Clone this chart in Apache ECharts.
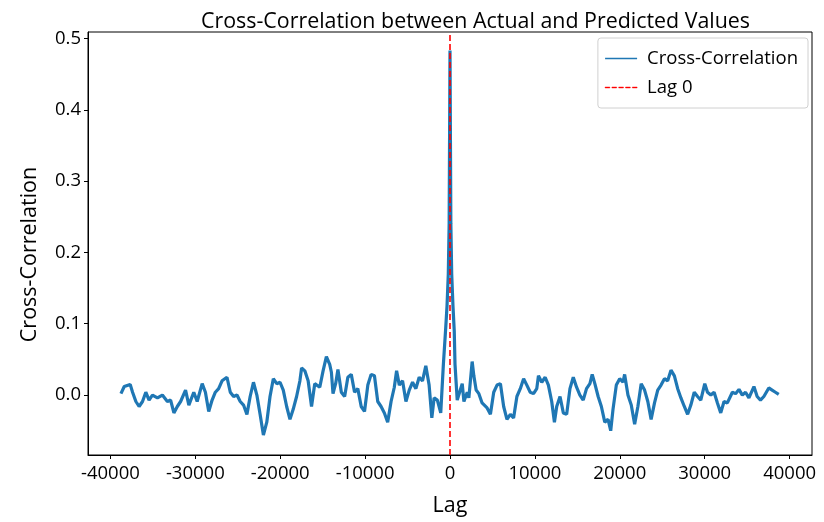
<!DOCTYPE html>
<html>
<head>
<meta charset="utf-8">
<script src="https://cdn.jsdelivr.net/npm/echarts@6/dist/echarts.min.js"></script>
<style>html,body{margin:0;padding:0;background:#fff;}#chart{width:824px;height:522px;}</style>
</head>
<body>
<div id="chart"></div>
<script>
const lags = [
-38760,-38370,-37670,-37390,-37000,-36620,-36220,-35830,-35450,-35050,
-34460,-33880,-33290,-32910,-32520,-32120,-31730,-31150,-30760,-30180,
-29780,-29190,-28810,-28420,-28020,-27640,-27250,-26850,-26270,-25880,
-25490,-25090,-24710,-24320,-23920,-23540,-23150,-22750,-22370,-21980,
-21580,-21200,-20810,-20410,-20020,-19640,-19240,-18850,-18470,-18070,
-17680,-17480,-17100,-16710,-16310,-15930,-15340,-14950,-14560,-14170,
-13970,-13780,-13470,-13200,-12800,-12410,-12030,-11630,-11240,-10860,
-10460,-10070,-9680,-9290,-8900,-8510,-8120,-7730,-7340,-6940,
-6560,-6290,-5970,-5590,-5190,-4800,-4410,-4020,-3630,-3240,
-2850,-2460,-2140,-1870,-1490,-1090,-780,-500,-350,-200,
-100,0,100,200,350,500,590,850,1050,1440,
1640,2030,2220,2610,2810,3080,3400,3780,4370,4760,
5150,5540,5940,6320,6710,7110,7490,7880,8280,8670,
9050,9450,9840,10220,10420,10810,11210,11590,11980,12300,
12570,12960,13350,13740,14130,14520,14910,15300,15690,16080,
16480,16750,17060,17450,17830,18230,18620,18930,19200,19590,
19990,20380,20570,20960,21350,21750,22130,22520,22920,23300,
23690,24090,24470,24860,25260,25640,26030,26430,26820,27200,
27600,27990,28370,28770,29160,29540,30010,30330,30720,31110,
31500,31890,32280,32670,33260,33640,34040,34430,34810,35210,
35800,36180,36570,36970,37550,37940,38330,38720
];
const crossCorr = [
0.002,0.012,0.015,0.004,-0.009,-0.016,-0.009,0.004,-0.007,0.000,
-0.004,0.000,-0.009,-0.007,-0.025,-0.016,-0.009,0.007,-0.014,0.004,
-0.009,0.016,0.004,-0.023,-0.007,0.004,0.009,0.020,0.025,0.004,
-0.002,0.000,-0.009,-0.014,-0.027,-0.002,0.018,0.000,-0.027,-0.056,
-0.038,-0.002,0.023,0.016,0.018,0.007,-0.016,-0.034,-0.020,-0.002,
0.020,0.038,0.034,0.020,-0.016,0.016,0.011,0.034,0.054,0.043,
0.032,0.002,0.016,0.036,0.004,-0.002,0.025,0.029,0.004,0.009,
-0.016,-0.023,0.014,0.029,0.027,-0.009,-0.016,-0.025,-0.038,-0.009,
0.011,0.034,0.014,0.020,-0.009,0.007,0.018,0.009,0.025,0.020,
0.041,0.014,-0.032,-0.004,-0.007,-0.025,0.043,0.095,0.125,0.170,
0.240,0.483,0.240,0.170,0.125,0.090,0.043,-0.007,-0.009,0.016,
-0.009,0.004,-0.004,0.047,0.027,0.007,0.002,-0.011,-0.018,-0.027,
0.004,0.014,0.016,-0.016,-0.034,-0.027,-0.032,-0.002,0.009,0.023,
0.014,0.004,0.002,0.009,0.027,0.018,0.025,0.014,-0.009,-0.038,
-0.016,-0.002,-0.025,-0.027,0.009,0.025,0.011,0.000,-0.007,0.009,
0.016,0.029,0.016,-0.002,-0.016,-0.038,-0.034,-0.050,-0.020,0.014,
0.023,0.018,0.029,0.000,-0.014,-0.041,-0.016,0.016,0.007,-0.009,
-0.034,-0.011,0.007,0.014,0.023,0.020,0.035,0.027,0.009,-0.004,
-0.016,-0.027,-0.014,0.004,-0.002,-0.007,0.016,0.004,0.000,0.004,
-0.011,-0.025,-0.009,-0.011,0.004,0.002,0.008,0.000,0.004,-0.004,
0.012,-0.002,-0.007,-0.002,0.010,0.007,0.004,0.001
];
const xTicks = [-40000,-30000,-20000,-10000,0,10000,20000,30000,40000];
const yTicks = [0.0,0.1,0.2,0.3,0.4,0.5];
const lagZero = 0;

const FONT = '"Open Sans", "Noto Sans", sans-serif';
const DASH_ICON = 'path://M0,0h4.5v1h-4.5zM6.5,0h4.5v1h-4.5zM13,0h4.5v1h-4.5zM19.5,0h4.5v1h-4.5zM26,0h4.5v1h-4.5z';
const chart = echarts.init(document.getElementById('chart'), null, {renderer:'canvas'});
chart.setOption({
  animation: false,
  backgroundColor: '#ffffff',
  title: {
    text: 'Cross-Correlation between Actual and Predicted Values',
    left: 196, top: 6,
    textStyle: {fontFamily: FONT, fontSize: 21.4, fontWeight: 'normal', color: '#000'}
  },
  legend: {
    orient: 'vertical', right: 16, top: 38,
    backgroundColor: '#fff', borderColor: '#d0d0d0', borderWidth: 1, borderRadius: 3,
    padding: [11, 10, 11, 7], itemGap: 10, itemWidth: 32, itemHeight: 1.6,
    textStyle: {fontFamily: FONT, fontSize: 18.5, color: '#000', padding: [0,0,0,5]},
    data: [
      {name: 'Cross-Correlation', icon: 'rect', itemStyle: {color: '#1f77b4', borderWidth: 0, opacity: 1}},
      {name: 'Lag 0', icon: DASH_ICON, itemStyle: {color: 'red', borderColor: 'red', borderWidth: 0.4}}
    ]
  },
  grid: {left: 88, right: 12, top: 32, bottom: 55, show: true, borderColor: '#000', borderWidth: 1, containLabel: false},
  xAxis: {
    type: 'value', min: -42640, max: 42640,
    name: 'Lag', nameLocation: 'middle', nameGap: 40,
    nameTextStyle: {fontFamily: FONT, fontSize: 21.5, color: '#000'},
    axisLine: {show: true, onZero: false, lineStyle: {color: '#000', width: 1}},
    axisTick: {show: true, length: 4, lineStyle: {color: '#000'}, customValues: xTicks},
    axisLabel: {fontFamily: FONT, fontSize: 18.5, color: '#000', margin: 9, customValues: xTicks, formatter: v => String(v)},
    splitLine: {show: false}
  },
  yAxis: {
    type: 'value', min: -0.084, max: 0.509,
    name: 'Cross-Correlation', nameLocation: 'middle', nameGap: 47, nameRotate: 90,
    nameTextStyle: {fontFamily: FONT, fontSize: 21.5, color: '#000', padding: [0, 22, 0, 0]},
    axisLine: {show: true, onZero: false, lineStyle: {color: '#000', width: 1}},
    axisTick: {show: true, length: 4, lineStyle: {color: '#000'}, customValues: yTicks},
    axisLabel: {fontFamily: FONT, fontSize: 18.5, color: '#000', margin: 7, customValues: yTicks, formatter: v => v.toFixed(1)},
    splitLine: {show: false}
  },
  series: [
    {
      name: 'Cross-Correlation', type: 'line', showSymbol: false, symbol: 'none',
      data: lags.map((l, i) => [l, crossCorr[i]]),
      lineStyle: {color: '#1f77b4', width: 3.2},
      itemStyle: {color: '#1f77b4'},
      emphasis: {disabled: true},
      z: 2
    },
    {
      name: 'Lag 0', type: 'line', data: [], symbol: 'none',
      lineStyle: {color: 'red', type: [6,3], width: 1.6},
      itemStyle: {color: 'red'},
      markLine: {
        silent: true, symbol: ['none','none'], label: {show: false},
        lineStyle: {color: 'red', type: [6,3], width: 1.6},
        data: [{xAxis: lagZero}]
      },
      z: 3
    }
  ]
});
</script>
</body>
</html>
